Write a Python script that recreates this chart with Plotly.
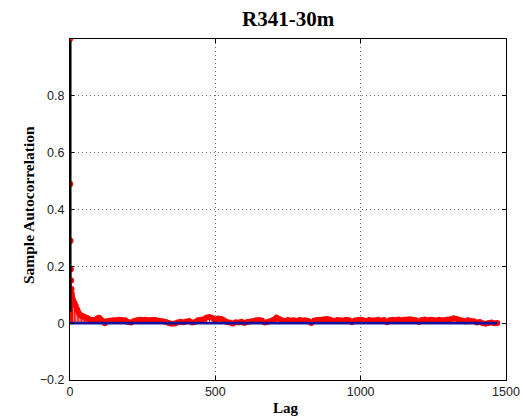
import plotly.graph_objects as go

# Sample autocorrelation of series R341-30m
# Lags 0-9 individually, 10-120 every 5 lags, 130-1470 every 10 lags
lags = list(range(0, 10)) + list(range(10, 121, 5)) + list(range(130, 1471, 10))

acf_head = [1.000, 0.490, 0.290, 0.190, 0.150, 0.120, 0.104, 0.095, 0.088, 0.082]
acf_decay = [0.080, 0.072, 0.061, 0.048, 0.037, 0.030, 0.026, 0.024, 0.022, 0.019,
             0.017, 0.014, 0.012, 0.011, 0.010, 0.009, 0.012, 0.017, 0.019, 0.014,
             0.009, 0.006, 0.000]
acf_tail = [
    # 130 - 220
    0.008, 0.009, 0.010, 0.011, 0.012, 0.011, 0.010, 0.004, 0.002, 0.008,
    # 230 - 320
    0.010, 0.012, 0.011, 0.012, 0.010, 0.011, 0.012, 0.009, 0.008, 0.007,
    # 330 - 420
    0.004, 0.001, -0.002, -0.001, 0.002, 0.005, 0.003, 0.006, 0.008, 0.002,
    # 430 - 520
    0.004, 0.010, 0.012, 0.014, 0.020, 0.022, 0.018, 0.012, 0.016, 0.015,
    # 530 - 620
    0.010, 0.004, 0.002, -0.001, 0.003, 0.002, 0.005, 0.001, 0.004, 0.006,
    # 630 - 720
    0.008, 0.010, 0.011, 0.009, 0.002, 0.004, 0.008, 0.012, 0.020, 0.015,
    # 730 - 820
    0.010, 0.008, 0.011, 0.009, 0.010, 0.008, 0.011, 0.009, 0.010, 0.008,
    # 830 - 920
    0.001, 0.009, 0.011, 0.012, 0.013, 0.015, 0.014, 0.010, 0.008, 0.011,
    # 930 - 1020
    0.010, 0.009, 0.012, 0.010, 0.003, 0.009, 0.011, 0.012, 0.010, 0.008,
    # 1030 - 1120
    0.011, 0.009, 0.010, 0.012, 0.009, 0.011, 0.003, 0.010, 0.012, 0.011,
    # 1130 - 1220
    0.013, 0.010, 0.012, 0.013, 0.014, 0.012, 0.010, 0.004, 0.011, 0.013,
    # 1230 - 1320
    0.010, 0.012, 0.011, 0.009, 0.012, 0.010, 0.011, 0.013, 0.014, 0.017,
    # 1330 - 1420
    0.015, 0.011, 0.009, 0.006, 0.010, 0.008, 0.007, 0.002, 0.004, 0.000,
    # 1430 - 1470
    -0.002, 0.001, 0.002, 0.000, 0.001,
]
acf = acf_head + acf_decay + acf_tail
assert len(acf) == len(lags)

y_ticks = [-0.2, 0, 0.2, 0.4, 0.6, 0.8]
x_ticks = [0, 500, 1000, 1500]

title_text = "R341-30m"
x_label = "Lag"
y_label = "Sample Autocorrelation"

stem_color = "#ff0000"
base_color = "#1414a0"
serif = "Liberation Serif"
sans = "Liberation Sans"

# stems as one broken polyline: 0 -> value for each lag
stem_x, stem_y = [], []
for lag, v in zip(lags, acf):
    stem_x += [lag, lag, None]
    stem_y += [0, v, None]

fig = go.Figure()
fig.add_trace(go.Scatter(x=stem_x, y=stem_y, mode="lines",
                         line=dict(color=stem_color, width=1),
                         hoverinfo="skip", showlegend=False))
fig.add_trace(go.Scatter(x=lags, y=acf, mode="markers",
                         marker=dict(color=stem_color, size=6, line=dict(width=0)),
                         showlegend=False))
# zero baseline drawn over the stems
fig.add_trace(go.Scatter(x=[lags[0], lags[-1]], y=[0, 0], mode="lines",
                         line=dict(color=base_color, width=2.6),
                         hoverinfo="skip", showlegend=False))

axis_common = dict(
    showline=True, linecolor="#000000", linewidth=1, mirror="ticks",
    ticks="inside", ticklen=4, tickcolor="#000000",
    showgrid=True, gridcolor="#6a6a6a", gridwidth=1, griddash="1px,3px",
    zeroline=False, automargin=False, layer="above traces",
    tickfont=dict(family=sans, size=12.5, color="#222222"),
)

fig.update_xaxes(range=[0, 1500], tickvals=x_ticks, **axis_common)
fig.update_yaxes(range=[-0.2, 1.0], tickvals=y_ticks, ticklabelstandoff=2, **axis_common)

fig.update_layout(
    width=523, height=417,
    margin=dict(l=70, r=17, t=39, b=37, pad=0),
    plot_bgcolor="#ffffff", paper_bgcolor="#ffffff",
    showlegend=False,
    # left frame edge kept on top of the lag-0 stem
    shapes=[dict(type="rect", xref="paper", yref="paper", x0=-0.0012, x1=0.0035,
                 y0=0.2, y1=0.995, fillcolor="#000000", line=dict(width=0),
                 layer="above")],
    annotations=[
        dict(text=f"<b>{title_text}</b>", x=0.5, y=1, xref="paper", yref="paper",
             xanchor="center", yanchor="bottom", yshift=6, showarrow=False,
             font=dict(family=serif, size=21, color="#000000")),
        dict(text=f"<b>{x_label}</b>", x=0.495, y=-0.083, xref="paper", yref="paper",
             xanchor="center", yanchor="middle", showarrow=False,
             font=dict(family=serif, size=15, color="#000000")),
        dict(text=f"<b>{y_label}</b>", x=-0.0963, y=0.513, xref="paper", yref="paper",
             xanchor="center", yanchor="middle", textangle=-90, showarrow=False,
             font=dict(family=serif, size=15.5, color="#000000")),
    ],
)

fig.write_html("out.html")
